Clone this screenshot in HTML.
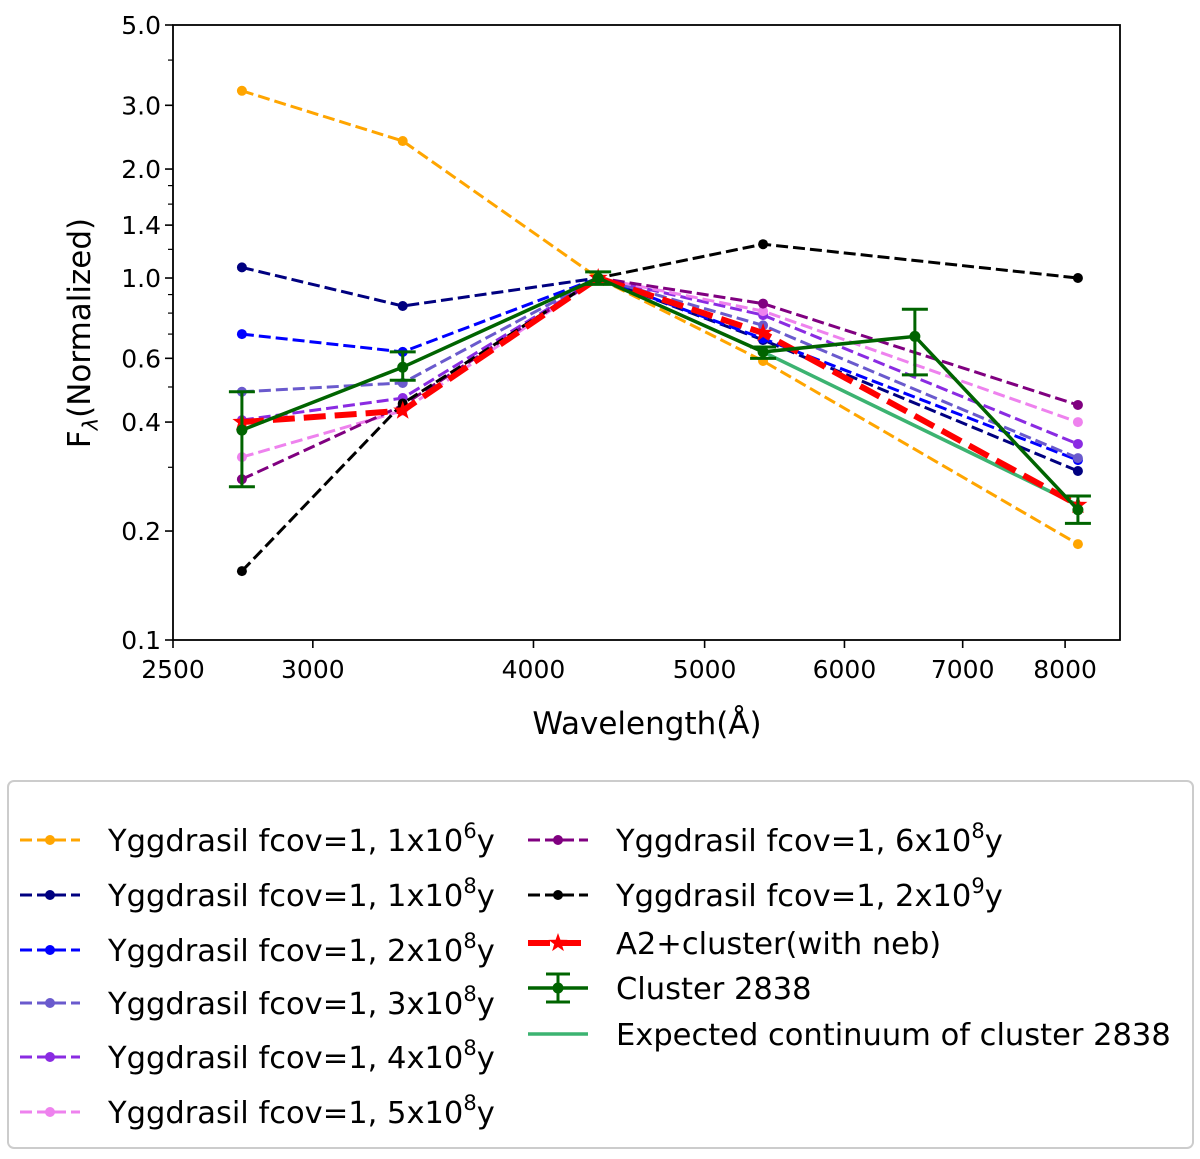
<!DOCTYPE html>
<html><head><meta charset="utf-8"><style>
body{margin:0;background:#fff}
svg{display:block;font-family:"DejaVu Sans","Liberation Sans",sans-serif}
</style></head><body>
<svg id="c" width="1200" height="1159" viewBox="0 0 1200 1159"></svg>
<script>
const waves=[2735,3373,4352,5396,8135];
const clusterWaves=[2735,3373,4352,5396,6577,8135];
const seriesNames=["Yggdrasil fcov=1, 1x10^6y","Yggdrasil fcov=1, 1x10^8y","Yggdrasil fcov=1, 2x10^8y","Yggdrasil fcov=1, 3x10^8y","Yggdrasil fcov=1, 4x10^8y","Yggdrasil fcov=1, 5x10^8y","Yggdrasil fcov=1, 6x10^8y","Yggdrasil fcov=1, 2x10^9y"];
const seriesColors=["#ffa500","#000080","#0000ff","#6a5acd","#8a2be2","#ee82ee","#800080","#000000"];
const s1e6=[3.29,2.39,1.0,0.59,0.184];
const s1e8=[1.07,0.837,1.0,0.674,0.293];
const s2e8=[0.70,0.625,1.0,0.68,0.314];
const s3e8=[0.485,0.513,1.0,0.74,0.318];
const s4e8=[0.405,0.466,1.0,0.79,0.348];
const s5e8=[0.32,0.43,1.0,0.81,0.40];
const s6e8=[0.278,0.445,1.0,0.85,0.446];
const s2e9=[0.155,0.45,1.0,1.24,1.0];
const a2cluster=[0.40,0.43,1.0,0.705,0.236];
const cluster=[0.38,0.567,1.0,0.625,0.69,0.229];
const clusterLo=[0.265,0.522,0.96,0.60,0.54,0.21];
const clusterHi=[0.485,0.625,1.04,0.645,0.82,0.25];
const contWaves=[5396,8135];
const continuum=[0.625,0.236];
const xTicks=[2500,3000,4000,5000,6000,7000,8000];
const yTicks=[0.1,0.2,0.4,0.6,1.0,1.4,2.0,3.0,5.0];
const yMinor=[0.3,0.5,0.7,0.8,0.9,1.2,1.6,1.8,4.0];

const L=173,R=1120,T=25,B=640;
const pxDec=1766;
const X=w=>L+Math.log10(w/2500)*pxDec;
const Y=v=>B-Math.log10(v/0.1)*(B-T)/Math.log10(50);
const svg=document.getElementById('c');
const NS="http://www.w3.org/2000/svg";
function mk(tag,attrs,parent){const e=document.createElementNS(NS,tag);for(const k in attrs)e.setAttribute(k,attrs[k]);(parent||svg).appendChild(e);return e;}

const plot=mk('g',{});


const all=[s1e6,s1e8,s2e8,s3e8,s4e8,s5e8,s6e8,s2e9];
function pts(ws,vs){return ws.map((w,i)=>X(w).toFixed(1)+","+Y(vs[i]).toFixed(1)).join(" ");}
all.forEach((vs,k)=>{
  const g=mk('g',{},plot);
  
  
  mk('polyline',{points:pts(waves,vs),fill:'none',stroke:seriesColors[k],'stroke-width':3,'stroke-dasharray':'12,5'},g);
  vs.forEach((v,i)=>mk('circle',{cx:X(waves[i]),cy:Y(v),r:5,fill:seriesColors[k]},g));
});
const cg=mk('g',{},plot);


mk('polyline',{points:pts(contWaves,continuum),fill:'none',stroke:'#3cb371','stroke-width':3.5},cg);
const rg=mk('g',{},plot);


mk('polyline',{points:pts(waves,a2cluster),fill:'none',stroke:'#ff0000','stroke-width':6,'stroke-dasharray':'22,9'},rg);
function star(cx,cy,r,p){let s="";for(let i=0;i<10;i++){const a=-Math.PI/2+i*Math.PI/5,rr=i%2?r*0.4:r;s+=(cx+rr*Math.cos(a)).toFixed(1)+","+(cy+rr*Math.sin(a)).toFixed(1)+" ";}mk('polygon',{points:s,fill:'#ff0000'},p);}
a2cluster.forEach((v,i)=>star(X(waves[i]),Y(v),10,rg));
const gg=mk('g',{},plot);


mk('polyline',{points:pts(clusterWaves,cluster),fill:'none',stroke:'#006400','stroke-width':3.5},gg);
cluster.forEach((v,i)=>{const x=X(clusterWaves[i]);
  mk('line',{x1:x,x2:x,y1:Y(clusterLo[i]),y2:Y(clusterHi[i]),stroke:'#006400','stroke-width':3},gg);
  [clusterLo[i],clusterHi[i]].forEach(e=>mk('line',{x1:x-13,x2:x+13,y1:Y(e),y2:Y(e),stroke:'#006400','stroke-width':3},gg));
  mk('circle',{cx:x,cy:Y(v),r:5.5,fill:'#006400'},gg);});

mk('rect',{x:L,y:T,width:R-L,height:B-T,fill:'none',stroke:'#000','stroke-width':1.8});
xTicks.forEach(t=>{const x=X(t);mk('line',{x1:x,x2:x,y1:B,y2:B+8,stroke:'#000','stroke-width':1.6});
  const tx=mk('text',{x:x,y:B+38,'font-size':25,'text-anchor':'middle'});tx.textContent=t;
  
  });
yTicks.forEach(t=>{const y=Y(t);mk('line',{x1:L-8,x2:L,y1:y,y2:y,stroke:'#000','stroke-width':1.6});
  const tx=mk('text',{x:L-12,y:y+9,'font-size':25,'text-anchor':'end'});tx.textContent=t.toFixed(1);
  
  });
yMinor.forEach(t=>{const y=Y(t);mk('line',{x1:L-5,x2:L,y1:y,y2:y,stroke:'#000','stroke-width':1.2});});
const xt=mk('text',{x:647,y:734,'font-size':31,'text-anchor':'middle'});xt.textContent="Wavelength(Å)";


const yt=mk('text',{x:0,y:0,'font-size':31,'text-anchor':'middle',transform:'translate(90,333) rotate(-90)'});
yt.innerHTML='F<tspan font-size="21" dy="8" font-style="italic">λ</tspan><tspan dy="-8">(Normalized)</tspan>';



const lg=mk('g',{});


mk('rect',{x:8,y:781,width:1185,height:367,rx:6,fill:'#fff',stroke:'#ccc','stroke-width':2},lg);
function entryText(x,y,name){const t=mk('text',{x:x,y:y+11,'font-size':30.5},lg);
  const m=name.match(/^(.*x10)\^(\d)(y)$/);
  if(m){t.innerHTML=m[1]+'<tspan font-size="21" dy="-13">'+m[2]+'</tspan><tspan dy="13">'+m[3]+'</tspan>';}else t.textContent=name;return t;}
const rows1=[840,895,950,1003,1057,1112],rows2=[840,895,943,988,1034];
seriesNames.forEach((n,k)=>{const col=k<6?0:1;const y=col?rows2[k-6]:rows1[k];const x0=col?528:20;
  mk('line',{x1:x0,x2:x0+60,y1:y,y2:y,stroke:seriesColors[k],'stroke-width':3,'stroke-dasharray':'12,5'},lg);
  mk('circle',{cx:x0+30,cy:y,r:5,fill:seriesColors[k]},lg);
  const t=entryText(col?616:108,y,n);
  
  });
mk('line',{x1:528,x2:588,y1:943,y2:943,stroke:'#ff0000','stroke-width':6,'stroke-dasharray':'22,9'},lg);
star(558,943,10,lg);
const e1=entryText(616,943,"A2+cluster(with neb)");


mk('line',{x1:528,x2:588,y1:988,y2:988,stroke:'#006400','stroke-width':3.5},lg);
mk('line',{x1:558,x2:558,y1:974,y2:1002,stroke:'#006400','stroke-width':3},lg);
mk('line',{x1:546,x2:570,y1:974,y2:974,stroke:'#006400','stroke-width':3},lg);
mk('line',{x1:546,x2:570,y1:1002,y2:1002,stroke:'#006400','stroke-width':3},lg);
mk('circle',{cx:558,cy:988,r:5.5,fill:'#006400'},lg);
const e2=entryText(616,988,"Cluster 2838");


mk('line',{x1:528,x2:588,y1:1034,y2:1034,stroke:'#3cb371','stroke-width':3.5},lg);
const e3=entryText(616,1034,"Expected continuum of cluster 2838");


</script>
</body></html>
